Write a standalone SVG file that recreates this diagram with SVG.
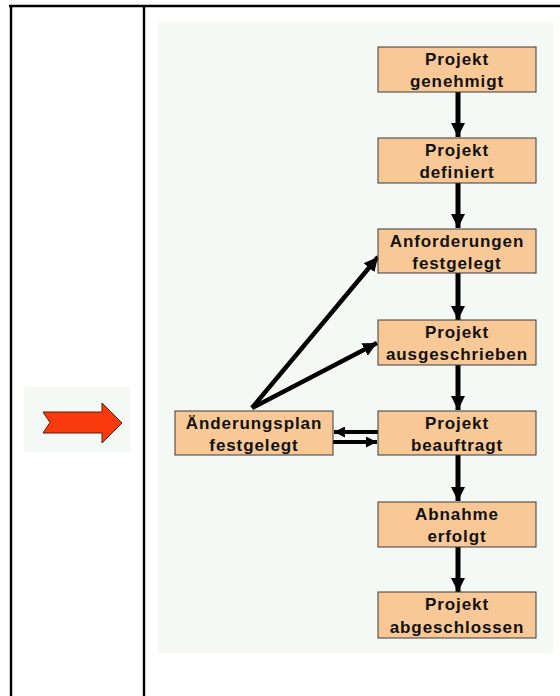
<svg xmlns="http://www.w3.org/2000/svg" width="560" height="696" viewBox="0 0 560 696">
<style>
.box{fill:#F8C996;stroke:#3a3a3a;stroke-width:1}
.t{font-family:"Liberation Sans",Arial,sans-serif;font-weight:bold;font-size:17px;letter-spacing:0.9px;fill:#111;text-anchor:middle}
.frame{stroke:#000;stroke-width:2.4;fill:none}
.c{stroke:#000;fill:none}
</style>
<defs>
<marker id="ah" viewBox="0 0 14 14" refX="14" refY="7" markerWidth="14" markerHeight="14" markerUnits="userSpaceOnUse" orient="auto">
<path d="M0,0 L14,7 L0,14 Z" fill="#000"/>
</marker>
<marker id="ahs" viewBox="0 0 12 12" refX="12" refY="6" markerWidth="12" markerHeight="11" markerUnits="userSpaceOnUse" orient="auto">
<path d="M0,0 L12,6 L0,12 Z" fill="#000"/>
</marker>
</defs>
<rect x="0" y="0" width="560" height="696" fill="#fff"/>
<g id="table">
<line class="frame" x1="9" y1="6" x2="560" y2="6"/>
<line class="frame" x1="11" y1="5" x2="11" y2="696"/>
<line class="frame" x1="144" y1="5" x2="144" y2="696"/>
</g>
<rect x="158" y="22" width="395" height="631" fill="#F5F9F6"/>
<g id="redarrow">
<rect x="24" y="387" width="106" height="65" fill="#F5F9F6"/>
<polygon points="43,412 102,412 102,403 122,423 102,443 102,433 43,433 50,422.5" fill="#FA3A0C" stroke="#5a1a08" stroke-width="1"/>
</g>
<g id="connectors" class="c">
<line x1="458" y1="91" x2="458" y2="137" stroke-width="5" marker-end="url(#ah)"/>
<line x1="458" y1="182" x2="458" y2="228" stroke-width="5" marker-end="url(#ah)"/>
<line x1="458" y1="273" x2="458" y2="320" stroke-width="5" marker-end="url(#ah)"/>
<line x1="458" y1="365" x2="458" y2="410" stroke-width="5" marker-end="url(#ah)"/>
<line x1="458" y1="455" x2="458" y2="501" stroke-width="5" marker-end="url(#ah)"/>
<line x1="458" y1="546" x2="458" y2="592" stroke-width="5" marker-end="url(#ah)"/>
<line x1="252" y1="408" x2="378" y2="257" stroke-width="4.5" marker-end="url(#ah)"/>
<line x1="252" y1="408" x2="377" y2="343" stroke-width="4.5" marker-end="url(#ah)"/>
<line x1="378" y1="432" x2="334" y2="432" stroke-width="4" marker-end="url(#ahs)"/>
<line x1="333" y1="442" x2="377" y2="442" stroke-width="4" marker-end="url(#ahs)"/>
</g>
<g id="n1"><rect class="box" x="378" y="47" width="158" height="45"/><text class="t" x="457" y="65">Projekt</text><text class="t" x="457" y="87">genehmigt</text></g>
<g id="n2"><rect class="box" x="378" y="138" width="158" height="45"/><text class="t" x="457" y="156">Projekt</text><text class="t" x="457" y="178">definiert</text></g>
<g id="n3"><rect class="box" x="378" y="229" width="158" height="44"/><text class="t" x="457" y="247">Anforderungen</text><text class="t" x="457" y="269">festgelegt</text></g>
<g id="n4"><rect class="box" x="378" y="320" width="158" height="45"/><text class="t" x="457" y="338">Projekt</text><text class="t" x="457" y="360">ausgeschrieben</text></g>
<g id="n5"><rect class="box" x="378" y="411" width="158" height="44"/><text class="t" x="457" y="429">Projekt</text><text class="t" x="457" y="451">beauftragt</text></g>
<g id="n6"><rect class="box" x="378" y="502" width="158" height="45"/><text class="t" x="457" y="520">Abnahme</text><text class="t" x="457" y="542">erfolgt</text></g>
<g id="n7"><rect class="box" x="378" y="592" width="158" height="46"/><text class="t" x="457" y="610">Projekt</text><text class="t" x="457" y="633">abgeschlossen</text></g>
<g id="n8"><rect class="box" x="175" y="411" width="158" height="44"/><text class="t" x="254" y="429">Änderungsplan</text><text class="t" x="254" y="451">festgelegt</text></g>
</svg>
